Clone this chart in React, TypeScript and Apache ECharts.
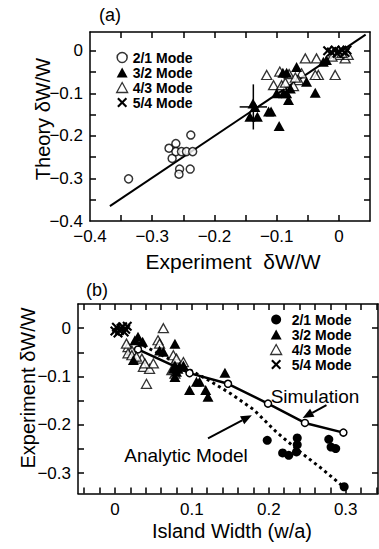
import React, { useEffect, useRef } from "react";
import * as echarts from "echarts";

// ---------- Panel (a): theory vs experiment ----------
const mode21A = [
  [-0.338, -0.301], [-0.273, -0.229], [-0.262, -0.218], [-0.268, -0.253],
  [-0.262, -0.237], [-0.253, -0.237], [-0.245, -0.237], [-0.235, -0.237],
  [-0.238, -0.198], [-0.256, -0.278], [-0.257, -0.29], [-0.239, -0.278],
];
const mode32A = [
  [-0.143, -0.155], [-0.131, -0.155], [-0.135, -0.132], [-0.138, -0.124],
  [-0.113, -0.143], [-0.109, -0.143], [-0.096, -0.177], [-0.1, -0.1],
  [-0.089, -0.1], [-0.084, -0.1], [-0.081, -0.116], [-0.078, -0.089],
  [-0.084, -0.052], [-0.09, -0.052], [-0.068, -0.038], [-0.052, -0.073],
  [-0.038, -0.099], [-0.025, -0.026], [-0.02, -0.022],
];
const mode43A = [
  [-0.116, -0.057], [-0.095, -0.049], [-0.105, -0.081], [-0.092, -0.081],
  [-0.086, -0.075], [-0.06, -0.053], [-0.065, -0.069], [-0.073, -0.083],
  [-0.054, -0.018], [-0.036, -0.018], [-0.033, -0.057], [-0.038, -0.057],
  [-0.006, -0.057], [0.01, -0.018], [-0.001, -0.01], [-0.011, -0.014],
  [0.015, -0.01], [-0.08, -0.055], [-0.07, -0.063], [0.005, -0.005],
];
const mode54A = [
  [-0.018, 0.0], [-0.012, -0.003], [-0.006, 0.002], [0.0, -0.002],
  [0.005, 0.001], [0.01, -0.004], [0.013, 0.002], [-0.003, -0.006],
];
// x, y, x half-width, y half-height
const errorBarA = [[-0.1375, -0.132, 0.022, 0.053]];
const fitLineA = [[-0.368, -0.365], [0.043, 0.038]];

const xTicksA = [-0.35, -0.3, -0.25, -0.2, -0.15, -0.1, -0.05, 0];
const xLabelsA = [-0.4, -0.3, -0.2, -0.1, 0];
const yTicksA = [-0.35, -0.3, -0.25, -0.2, -0.15, -0.1, -0.05, 0];
const yLabelsA = [-0.4, -0.3, -0.2, -0.1, 0];

// ---------- Panel (b): experiment vs island width ----------
const mode21B = [
  [0.198, -0.232], [0.218, -0.258], [0.226, -0.263], [0.237, -0.227],
  [0.237, -0.241], [0.236, -0.256], [0.278, -0.23], [0.281, -0.246],
  [0.287, -0.249], [0.298, -0.328],
];
const mode32B = [
  [0.03, -0.018], [0.026, -0.025], [0.036, -0.028], [0.024, -0.066],
  [0.058, -0.046], [0.063, -0.049], [0.078, -0.032], [0.078, -0.077],
  [0.076, -0.084], [0.082, -0.084], [0.08, -0.09], [0.078, -0.101],
  [0.084, -0.08], [0.089, -0.077], [0.097, -0.128], [0.106, -0.111],
  [0.11, -0.111], [0.118, -0.128], [0.121, -0.142], [0.143, -0.092],
];
const mode43B = [
  [0.063, 0.0], [0.056, -0.025], [0.058, -0.032], [0.017, -0.039],
  [0.022, -0.046], [0.017, -0.052], [0.022, -0.056], [0.035, -0.063],
  [0.037, -0.08], [0.045, -0.084], [0.05, -0.073], [0.039, -0.073],
  [0.041, -0.115], [0.076, -0.056], [0.08, -0.063], [0.089, -0.07],
  [0.074, -0.087], [0.078, -0.094], [0.028, -0.059], [0.015, -0.032],
];
const mode54B = [
  [0.002, 0.002], [0.006, -0.005], [0.01, 0.003], [0.014, -0.002],
  [0.004, -0.01], [0.012, -0.008], [0.016, 0.004], [0.0, -0.006], [0.008, 0.0],
];
const simulationB = [
  [0.03, -0.044], [0.097, -0.093], [0.147, -0.115], [0.199, -0.156],
  [0.247, -0.196], [0.297, -0.216],
];
const analyticB = [
  [0.03, -0.03], [0.06, -0.055], [0.09, -0.08], [0.12, -0.106], [0.15, -0.135],
  [0.18, -0.168], [0.21, -0.215], [0.24, -0.255], [0.27, -0.292], [0.297, -0.328],
];
// annotation arrows: [tail, head] in data units of panel (b)
const simArrowB = [[0.275, -0.159], [0.244, -0.186]];
const anaArrowB = [[0.121, -0.228], [0.178, -0.18]];

const xTicksB = [-0.04, -0.02, 0, 0.02, 0.04, 0.06, 0.08, 0.1, 0.12, 0.14, 0.16, 0.18, 0.2, 0.22, 0.24, 0.26, 0.28, 0.3, 0.32, 0.34];
const xLabelsB = [0, 0.1, 0.2, 0.3];
const yTicksB = [-0.3, -0.25, -0.2, -0.15, -0.1, -0.05, 0];
const yLabelsB = [-0.3, -0.2, -0.1, 0];

const modeNames = ["2/1 Mode", "3/2 Mode", "4/3 Mode", "5/4 Mode"];

const FONT = '"Liberation Sans", Arial, Helvetica, sans-serif';
const CROSS = "path://M0,1.5L1.5,0L5,3.5L8.5,0L10,1.5L6.5,5L10,8.5L8.5,10L5,6.5L1.5,10L0,8.5L3.5,5Z";

// tick labels use a true minus sign
const fmt = (v: number) => (Math.abs(v) < 1e-9 ? "0" : v.toFixed(1).replace("-", "\u2212"));

function axis(
  gridIndex: number,
  position: string,
  min: number,
  max: number,
  ticks: number[],
  labels: number[] | null
) {
  return {
    type: "value",
    gridIndex,
    position,
    min,
    max,
    axisLine: { show: true, onZero: false, lineStyle: { color: "#000", width: 1.5 } },
    axisTick: {
      show: true,
      inside: true,
      length: 6,
      customValues: ticks,
      lineStyle: { color: "#000", width: 1.5 },
    },
    axisLabel: labels
      ? {
          show: true,
          customValues: labels,
          formatter: fmt,
          fontSize: 17,
          fontFamily: FONT,
          color: "#000",
          margin: 7,
        }
      : { show: false },
    splitLine: { show: false },
  };
}

const openCircle = { color: "#fff", borderColor: "#000", borderWidth: 1.5 };
const openTri = { color: "#fff", borderColor: "#000", borderWidth: 1.3 };
const solid = { color: "#000", borderColor: "#000", borderWidth: 0, opacity: 1 };

function arrowGraphics(tail: number[], head: number[]) {
  const dx = head[0] - tail[0];
  const dy = head[1] - tail[1];
  const len = Math.sqrt(dx * dx + dy * dy);
  const ux = dx / len;
  const uy = dy / len;
  const L = 11;
  const W = 4.5;
  const bx = head[0] - ux * L;
  const by = head[1] - uy * L;
  return [
    {
      type: "line",
      shape: { x1: tail[0], y1: tail[1], x2: bx, y2: by },
      style: { stroke: "#000", lineWidth: 2 },
    },
    {
      type: "polygon",
      shape: {
        points: [
          [head[0], head[1]],
          [bx - uy * W, by + ux * W],
          [bx + uy * W, by - ux * W],
        ],
      },
      style: { fill: "#000" },
    },
  ];
}

export default function App() {
  const ref = useRef<HTMLDivElement>(null);

  useEffect(() => {
    document.body.style.margin = "0";
    const chart = echarts.init(ref.current as HTMLDivElement, null, { renderer: "svg" });

    const legendBase = {
      orient: "vertical",
      itemWidth: 11,
      itemHeight: 10,
      itemGap: 0,
      padding: 0,
      selectedMode: false,
      textStyle: { fontFamily: FONT, fontWeight: "bold", fontSize: 14, lineHeight: 15, color: "#000" },
    };

    chart.setOption({
      animation: false,
      backgroundColor: "#fff",
      grid: [
        { left: 90, top: 32, width: 280, height: 189 },
        { left: 78, top: 304, width: 300, height: 189.5 },
      ],
      xAxis: [
        axis(0, "bottom", -0.4, 0.05, xTicksA, xLabelsA),
        axis(0, "top", -0.4, 0.05, xTicksA, null),
        axis(1, "bottom", -0.048, 0.342, xTicksB, xLabelsB),
        axis(1, "top", -0.048, 0.342, xTicksB, null),
      ],
      yAxis: [
        axis(0, "left", -0.4, 0.044, yTicksA, yLabelsA),
        axis(0, "right", -0.4, 0.044, yTicksA, null),
        axis(1, "left", -0.342, 0.05, yTicksB, yLabelsB),
        axis(1, "right", -0.342, 0.05, yLabelsB, null),
      ],
      legend: [
        {
          ...legendBase,
          left: 116,
          top: 50,
          data: [
            { name: modeNames[0], icon: "circle", itemStyle: openCircle },
            { name: modeNames[1], icon: "triangle", itemStyle: solid },
            { name: modeNames[2], icon: "triangle", itemStyle: openTri },
            { name: modeNames[3], icon: CROSS, itemStyle: solid },
          ],
        },
        {
          ...legendBase,
          left: 270,
          top: 312,
          textStyle: { ...legendBase.textStyle, padding: [0, 0, 0, 5] },
          data: [
            { name: modeNames[0], icon: "circle", itemStyle: solid },
            { name: modeNames[1], icon: "triangle", itemStyle: solid },
            { name: modeNames[2], icon: "triangle", itemStyle: openTri },
            { name: modeNames[3], icon: CROSS, itemStyle: solid },
          ],
        },
      ],
      series: [
        {
          type: "line",
          name: "fit",
          xAxisIndex: 0,
          yAxisIndex: 0,
          data: fitLineA,
          showSymbol: false,
          lineStyle: { color: "#000", width: 2 },
          z: 1,
        },
        {
          type: "custom",
          name: "error",
          xAxisIndex: 0,
          yAxisIndex: 0,
          data: errorBarA,
          z: 5,
          renderItem: (params: any, api: any) => {
            const x = api.value(0);
            const y = api.value(1);
            const ex = api.value(2);
            const ey = api.value(3);
            const l = api.coord([x - ex, y]);
            const r = api.coord([x + ex, y]);
            const t = api.coord([x, y + ey]);
            const b = api.coord([x, y - ey]);
            const st = { stroke: "#000", lineWidth: 1.5 };
            return {
              type: "group",
              children: [
                { type: "line", shape: { x1: l[0], y1: l[1], x2: r[0], y2: r[1] }, style: st },
                { type: "line", shape: { x1: t[0], y1: t[1], x2: b[0], y2: b[1] }, style: st },
              ],
            };
          },
        },
        {
          type: "scatter", name: modeNames[0], xAxisIndex: 0, yAxisIndex: 0,
          data: mode21A, symbol: "circle", symbolSize: 8, itemStyle: openCircle, z: 3,
        },
        {
          type: "scatter", name: modeNames[2], xAxisIndex: 0, yAxisIndex: 0,
          data: mode43A, symbol: "triangle", symbolSize: [10, 9], itemStyle: openTri, z: 3,
        },
        {
          type: "scatter", name: modeNames[1], xAxisIndex: 0, yAxisIndex: 0,
          data: mode32A, symbol: "triangle", symbolSize: [11, 10], itemStyle: solid, z: 4,
        },
        {
          type: "scatter", name: modeNames[3], xAxisIndex: 0, yAxisIndex: 0,
          data: mode54A, symbol: CROSS, symbolSize: 10, itemStyle: solid, z: 4,
        },
        // panel (b)
        {
          type: "line", name: "Analytic Model", xAxisIndex: 2, yAxisIndex: 2,
          data: analyticB, showSymbol: false,
          lineStyle: { color: "#000", width: 3, type: [3, 3.5] }, z: 1,
        },
        {
          type: "line", name: "Simulation", xAxisIndex: 2, yAxisIndex: 2,
          data: simulationB, symbol: "circle", symbolSize: 7, showSymbol: true,
          itemStyle: openCircle, lineStyle: { color: "#000", width: 2.5 }, z: 2,
        },
        {
          type: "scatter", name: modeNames[0], xAxisIndex: 2, yAxisIndex: 2,
          data: mode21B, symbol: "circle", symbolSize: 9, itemStyle: solid, z: 3,
        },
        {
          type: "scatter", name: modeNames[2], xAxisIndex: 2, yAxisIndex: 2,
          data: mode43B, symbol: "triangle", symbolSize: [10, 9], itemStyle: openTri, z: 3,
        },
        {
          type: "scatter", name: modeNames[1], xAxisIndex: 2, yAxisIndex: 2,
          data: mode32B, symbol: "triangle", symbolSize: [11, 10], itemStyle: solid, z: 4,
        },
        {
          type: "scatter", name: modeNames[3], xAxisIndex: 2, yAxisIndex: 2,
          data: mode54B, symbol: CROSS, symbolSize: 10, itemStyle: solid, z: 4,
        },
      ],
    });

    const toPx = (p: number[]) => chart.convertToPixel({ gridIndex: 1 }, p) as number[];

    const text = (t: string, x: number, y: number, size: number, rotate = 0) => ({
      type: "text",
      x,
      y,
      rotation: rotate,
      style: {
        text: t,
        fontFamily: FONT,
        fontSize: size,
        fill: "#000",
        align: "center",
        verticalAlign: "middle",
      },
    });

    chart.setOption({
      graphic: [
        text("(a)", 110, 15, 18),
        text("Theory δW/W", 43, 119, 20, Math.PI / 2),
        text("Experiment  δW/W", 233, 261, 21),
        text("(b)", 97, 290, 18),
        text("Experiment δW/W", 28, 388, 20, Math.PI / 2),
        text("Island Width (w/a)", 232, 531, 20),
        text("Simulation", 315, 396, 19),
        text("Analytic Model", 186, 455, 19),
        ...arrowGraphics(toPx(simArrowB[0]), toPx(simArrowB[1])),
        ...arrowGraphics(toPx(anaArrowB[0]), toPx(anaArrowB[1])),
      ],
    });

    return () => chart.dispose();
  }, []);

  return <div ref={ref} style={{ width: 379, height: 549 }} />;
}
